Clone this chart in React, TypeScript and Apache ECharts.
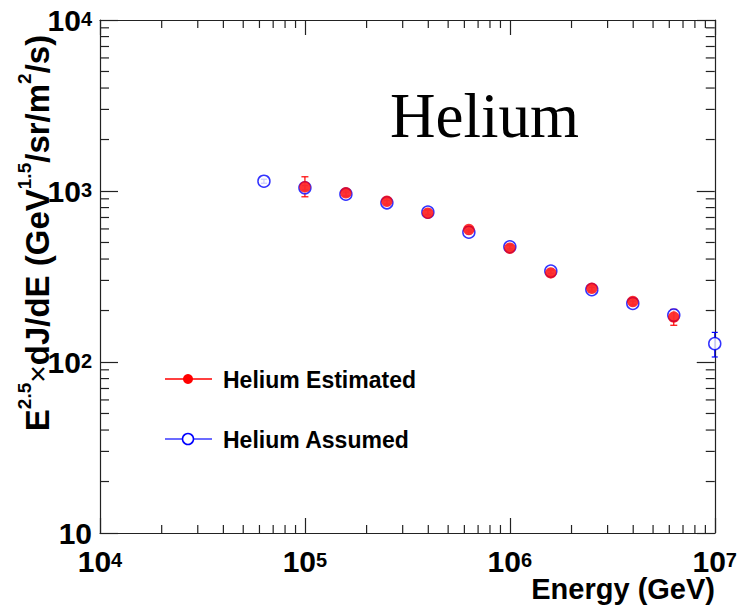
import React, { useEffect, useRef } from "react";
import * as echarts from "echarts";

// Energy bins (GeV) and E^2.5-weighted fluxes for helium
const energyAssumed = [63096, 100000, 158489, 251189, 398107, 630957, 1000000, 1584893, 2511886, 3981072, 6309573, 10000000];
const fluxAssumed = [1141, 1044, 958, 853, 752, 574, 472, 340, 265, 220, 188, 128];
const fluxAssumedLow = [1110, 1015, 930, 828, 730, 556, 458, 330, 257, 213, 174, 107];
const fluxAssumedHigh = [1172, 1075, 986, 878, 774, 592, 486, 350, 273, 227, 203, 149];

const energyEstimated = [100000, 158489, 251189, 398107, 630957, 1000000, 1584893, 2511886, 3981072, 6309573];
const fluxEstimated = [1058, 976, 872, 742, 596, 463, 332, 270, 226, 183];
const fluxEstimatedLow = [925, 940, 840, 715, 575, 447, 320, 260, 217, 164];
const fluxEstimatedHigh = [1211, 1015, 905, 770, 618, 480, 344, 280, 235, 203];

const energyRange = [1e4, 1e7];
const fluxRange = [10, 1e4];
const minorMultipliers = [2, 3, 4, 5, 6, 7, 8, 9];
const energyDecades = [1e4, 1e5, 1e6];
const fluxDecades = [10, 100, 1000];

const FONT = "Liberation Sans";
const RED = "#ff0000";
const BLUE = "#0000ff";
const FRAME = "#222222";

const labelRich = {
  b: { fontFamily: FONT, fontWeight: "bold", fontSize: 30, lineHeight: 22, color: "#000" },
  s: { fontFamily: FONT, fontWeight: "bold", fontSize: 20, lineHeight: 6, verticalAlign: "top", color: "#000" },
};

const powerLabel = (v: number) => {
  const e = Math.round(Math.log10(v));
  return e === 1 ? "{b|10}" : `{b|10}{s|${e}}`;
};

const minorValues = (decades: number[]) =>
  decades.flatMap((d) => minorMultipliers.map((m) => m * d));

export default function App() {
  const ref = useRef<HTMLDivElement>(null);

  useEffect(() => {
    if (!ref.current) return;
    const chart = echarts.init(ref.current, undefined, { renderer: "svg" });

    const errorBar = (color: string, capHalf: number) => (params: any, api: any) => {
      const x = api.value(0);
      const lo = api.coord([x, api.value(1)]);
      const hi = api.coord([x, api.value(2)]);
      const style = { stroke: color, lineWidth: 1.2 };
      return {
        type: "group",
        children: [
          { type: "line", shape: { x1: lo[0], y1: lo[1], x2: hi[0], y2: hi[1] }, style },
          { type: "line", shape: { x1: lo[0] - capHalf, y1: lo[1], x2: lo[0] + capHalf, y2: lo[1] }, style },
          { type: "line", shape: { x1: hi[0] - capHalf, y1: hi[1], x2: hi[0] + capHalf, y2: hi[1] }, style },
        ],
      };
    };

    const tickStyle = { stroke: FRAME, lineWidth: 1.2 };

    const xMinorTicks = (params: any, api: any) => {
      const v = api.value(0);
      const b = api.coord([v, fluxRange[0]]);
      const t = api.coord([v, fluxRange[1]]);
      return {
        type: "group",
        children: [
          { type: "line", shape: { x1: b[0], y1: b[1], x2: b[0], y2: b[1] - 8 }, style: tickStyle },
          { type: "line", shape: { x1: t[0], y1: t[1], x2: t[0], y2: t[1] + 8 }, style: tickStyle },
        ],
      };
    };

    const yMinorTicks = (params: any, api: any) => {
      const v = api.value(1);
      const l = api.coord([energyRange[0], v]);
      const r = api.coord([energyRange[1], v]);
      return {
        type: "group",
        children: [
          { type: "line", shape: { x1: l[0], y1: l[1], x2: l[0] + 9, y2: l[1] }, style: tickStyle },
          { type: "line", shape: { x1: r[0], y1: r[1], x2: r[0] - 9, y2: r[1] }, style: tickStyle },
        ],
      };
    };

    const axisLine = { show: true, lineStyle: { color: FRAME, width: 1.2 } };

    chart.setOption({
      animation: false,
      backgroundColor: "#ffffff",
      grid: { left: 100, top: 20, right: 25, bottom: 73, containLabel: false },
      xAxis: [
        {
          type: "log",
          logBase: 10,
          min: energyRange[0],
          max: energyRange[1],
          position: "bottom",
          axisLine,
          axisTick: { show: true, inside: true, length: 15, lineStyle: { color: FRAME, width: 1.2 } },
          axisLabel: { show: true, margin: 17, formatter: powerLabel, rich: labelRich },
          splitLine: { show: false },
        },
        {
          type: "log",
          logBase: 10,
          min: energyRange[0],
          max: energyRange[1],
          position: "top",
          axisLine,
          axisTick: { show: true, inside: true, length: 15, lineStyle: { color: FRAME, width: 1.2 } },
          axisLabel: { show: false },
          splitLine: { show: false },
        },
      ],
      yAxis: [
        {
          type: "log",
          logBase: 10,
          min: fluxRange[0],
          max: fluxRange[1],
          position: "left",
          axisLine,
          axisTick: { show: true, inside: true, length: 18, lineStyle: { color: FRAME, width: 1.2 } },
          axisLabel: { show: true, margin: 8, formatter: powerLabel, rich: labelRich },
          splitLine: { show: false },
        },
        {
          type: "log",
          logBase: 10,
          min: fluxRange[0],
          max: fluxRange[1],
          position: "right",
          axisLine,
          axisTick: { show: true, inside: true, length: 18, lineStyle: { color: FRAME, width: 1.2 } },
          axisLabel: { show: false },
          splitLine: { show: false },
        },
      ],
      series: [
        {
          type: "custom",
          name: "xMinor",
          renderItem: xMinorTicks,
          data: minorValues(energyDecades).map((v) => [v, 100]),
          silent: true,
          clip: false,
        },
        {
          type: "custom",
          name: "yMinor",
          renderItem: yMinorTicks,
          data: minorValues(fluxDecades).map((v) => [1e5, v]),
          silent: true,
          clip: false,
        },
        {
          type: "custom",
          name: "Helium Assumed errors",
          renderItem: errorBar(BLUE, 3),
          data: energyAssumed.map((e, i) => [e, fluxAssumedLow[i], fluxAssumedHigh[i]]),
          encode: { x: 0, y: [1, 2] },
          clip: false,
        },
        {
          type: "scatter",
          name: "Helium Assumed",
          data: energyAssumed.map((e, i) => [e, fluxAssumed[i]]),
          symbol: "circle",
          symbolSize: 12,
          itemStyle: { color: "#ffffff", borderColor: BLUE, borderWidth: 1.5 },
          clip: false,
        },
        {
          type: "custom",
          name: "Helium Estimated errors",
          renderItem: errorBar(RED, 3.5),
          data: energyEstimated.map((e, i) => [e, fluxEstimatedLow[i], fluxEstimatedHigh[i]]),
          encode: { x: 0, y: [1, 2] },
          clip: false,
        },
        {
          type: "scatter",
          name: "Helium Estimated",
          data: energyEstimated.map((e, i) => [e, fluxEstimated[i]]),
          symbol: "circle",
          symbolSize: 11.5,
          itemStyle: { color: RED },
          clip: false,
        },
      ],
      graphic: [
        {
          type: "text",
          x: 390,
          y: 116,
          style: {
            text: "Helium",
            fontFamily: "Liberation Serif",
            fontSize: 63,
            fill: "#000",
            align: "left",
            verticalAlign: "middle",
          },
        },
        {
          type: "text",
          x: 715,
          y: 589,
          style: {
            text: "Energy (GeV)",
            fontFamily: FONT,
            fontWeight: "bold",
            fontSize: 29,
            fill: "#000",
            align: "right",
            verticalAlign: "middle",
          },
        },
        {
          type: "text",
          x: 37,
          y: 233,
          rotation: Math.PI / 2,
          style: {
            text: "{m|E}{s|2.5}{x|\u00d7}{m|dJ/dE (GeV}{s|1.5}{m|/sr/m}{s|2}{m|/s)}",
            align: "center",
            verticalAlign: "middle",
            rich: {
              m: { fontFamily: FONT, fontWeight: "bold", fontSize: 33, lineHeight: 44, color: "#000" },
              s: { fontFamily: FONT, fontWeight: "bold", fontSize: 19, lineHeight: 12, verticalAlign: "top", color: "#000" },
              x: { fontFamily: FONT, fontWeight: "normal", fontSize: 30, lineHeight: 44, color: "#000" },
            },
          },
        },
        // legend
        { type: "line", shape: { x1: 165, y1: 379, x2: 212, y2: 379 }, style: { stroke: RED, lineWidth: 1.3 } },
        { type: "circle", shape: { cx: 188, cy: 379, r: 5 }, style: { fill: RED } },
        {
          type: "text",
          x: 223,
          y: 380,
          style: {
            text: "Helium Estimated",
            fontFamily: FONT,
            fontWeight: "bold",
            fontSize: 23,
            fill: "#000",
            align: "left",
            verticalAlign: "middle",
          },
        },
        { type: "line", shape: { x1: 165, y1: 439, x2: 212, y2: 439 }, style: { stroke: "#3a3aff", lineWidth: 1.3 } },
        { type: "circle", shape: { cx: 188, cy: 439, r: 5.5 }, style: { fill: "#ffffff", stroke: BLUE, lineWidth: 1.5 } },
        {
          type: "text",
          x: 223,
          y: 440,
          style: {
            text: "Helium Assumed",
            fontFamily: FONT,
            fontWeight: "bold",
            fontSize: 23,
            fill: "#000",
            align: "left",
            verticalAlign: "middle",
          },
        },
      ],
    });

    return () => chart.dispose();
  }, []);

  return (
    <div
      ref={ref}
      style={{ position: "fixed", left: 0, top: 0, width: 740, height: 606, background: "#fff" }}
    />
  );
}
